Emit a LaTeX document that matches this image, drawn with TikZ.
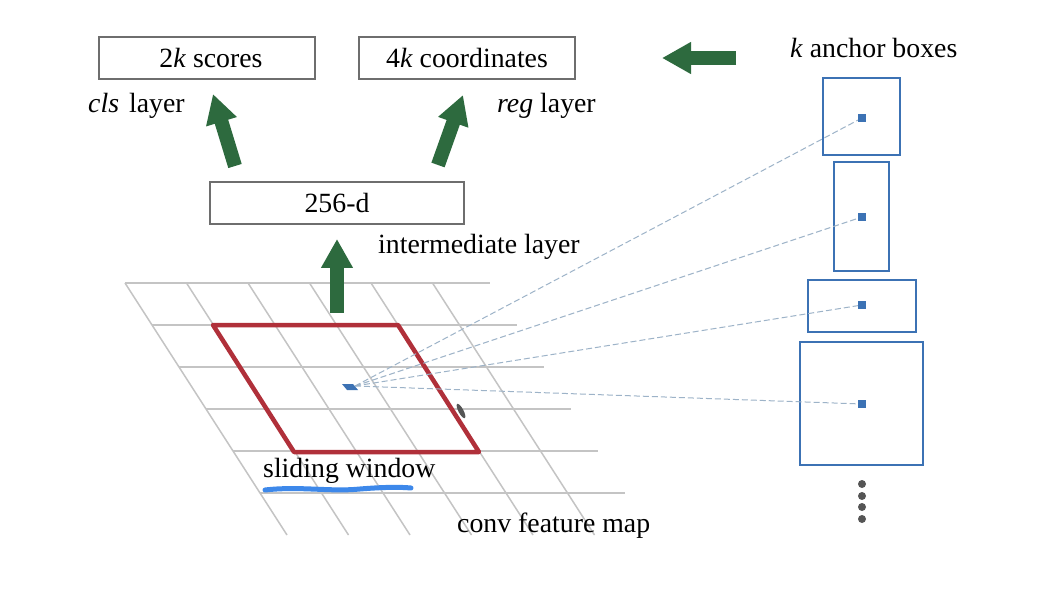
\documentclass[tikz,border=0pt]{standalone}
\usepackage{fontspec}
\setmainfont{Liberation Serif}
\usetikzlibrary{arrows.meta}
\definecolor{grn}{HTML}{2D6A3E}
\definecolor{redwin}{HTML}{B0303A}
\definecolor{gridc}{HTML}{C4C4C4}
\definecolor{boxc}{HTML}{6E6E6E}
\definecolor{anc}{HTML}{3C72B4}
\definecolor{dashc}{HTML}{9DB3C8}
\definecolor{uline}{HTML}{3D88EA}
\definecolor{ellc}{HTML}{555555}
\begin{document}
\begin{tikzpicture}[x=1pt,y=-1pt,
  txt/.style={font=\fontsize{27.8}{32}\selectfont, inner sep=0pt},
  layerbox/.style={draw=boxc, line width=1.5pt, fill=white, inner sep=0pt, font=\fontsize{27.8}{32}\selectfont},
  bigarrow/.style={draw=grn, line width=14pt, -{Triangle[width=30pt,length=29pt]}},
  gridline/.style={draw=gridc, line width=1.5pt},
  anchorbox/.style={draw=anc, line width=2pt, inner sep=0pt},
  adot/.style={fill=anc, minimum size=7pt, inner sep=0pt},
  dashline/.style={draw=dashc, line width=1pt, dash pattern=on 6pt off 3pt},
  edot/.style={circle, fill=ellc, minimum size=8pt, inner sep=0pt}]
\useasboundingbox (0,0) rectangle (1042,604);
\fill[white] (0,0) rectangle (1042,604);

% grid (conv feature map)
\foreach \i in {0,...,5} \draw[gridline] (125+61.5*\i,283) -- ++(162,252);
\foreach \j in {0,...,5} \draw[gridline] (125+27*\j,283+42*\j) -- ++(365,0);

% sliding window
\draw[redwin, line width=4.5pt, line join=round] (213,325) -- (398,325) -- (479,452) -- (294,452) -- cycle;

% centre cell
\fill[anc] (342,384) -- (353,384) -- (358,390) -- (347,390) -- cycle;
\coordinate (src) at (355,386);

% top boxes
\node[layerbox, minimum width=216pt, minimum height=42pt] (scores) at (207,58) {\hspace{8pt}2\textit{k} scores};
\node[layerbox, minimum width=216pt, minimum height=42pt] (coords) at (467,58) {4\textit{k} coordinates};
\node[layerbox, minimum width=254pt, minimum height=42pt] (inter) at (337,203) {256-d};

% labels
\node[txt, anchor=base west] (clsl) at (88,113) {\textit{cls}\hspace{3pt} layer};
\node[txt, anchor=base west] (regl) at (497,113) {\textit{reg} layer};
\node[txt, anchor=base west] (interl) at (378,254) {intermediate layer};
\node[txt, anchor=base west] (ancl) at (790,58) {\textit{k} anchor boxes};
\node[txt, anchor=base west] (slidel) at (263,477) {sliding window};
\node[txt, anchor=base west] (convl) at (457,532) {conv feature map};

% green arrows
\coordinate (a1s) at (235,166); \coordinate (a1e) at (213,94);
\coordinate (a2s) at (438,165); \coordinate (a2e) at (463,95);
\coordinate (a3s) at (337,313); \coordinate (a3e) at (337,239);
\coordinate (a4s) at (736,58);  \coordinate (a4e) at (662,58);
\draw[bigarrow] (a1s) -- (a1e);
\draw[bigarrow] (a2s) -- (a2e);
\draw[bigarrow] (a3s) -- (a3e);
\draw[bigarrow] (a4s) -- (a4e);

% anchor boxes
\node[anchorbox, minimum width=77pt, minimum height=77pt] (b1) at (861.5,116.5) {};
\node[anchorbox, minimum width=55pt, minimum height=109pt] (b2) at (861.5,216.5) {};
\node[anchorbox, minimum width=108pt, minimum height=52pt] (b3) at (862,306) {};
\node[anchorbox, minimum width=123pt, minimum height=123pt] (b4) at (861.5,403.5) {};
\node[adot] (d1) at (862,118) {};
\node[adot] (d2) at (862,217) {};
\node[adot] (d3) at (862,305) {};
\node[adot] (d4) at (862,404) {};
\foreach \d in {d1,d2,d3,d4} \draw[dashline] (src) -- (\d.center);
\foreach \d in {d1,d2,d3,d4} \fill[anc] (\d.south west) rectangle (\d.north east);

% ellipsis
\node[edot] (e1) at (862,484) {};
\node[edot] (e2) at (862,496) {};
\node[edot] (e3) at (862,507) {};
\node[edot] (e4) at (862,519) {};

% hand-drawn underline
\draw[uline, line width=5pt, line cap=round] (265,490) .. controls (300,486) and (330,492) .. (360,489) .. controls (385,487) and (400,487) .. (411,488);

% cursor mark
\fill[ellc, rotate around={-62:(461,411)}] (461,411) ellipse (8pt and 2.5pt);
\end{tikzpicture}
\end{document}
